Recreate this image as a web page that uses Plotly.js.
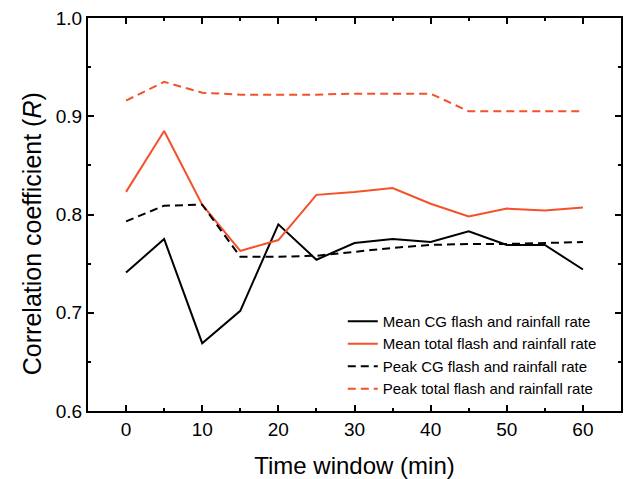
<!DOCTYPE html>
<html>
<head>
<meta charset="utf-8">
<script src="https://cdn.plot.ly/plotly-3.0.1.min.js"></script>
<style>html,body{margin:0;padding:0;background:#fff;}#chart{width:627px;height:479px;}</style>
</head>
<body>
<div id="chart"></div>
<script>
const timeWindow = [0, 5, 10, 15, 20, 25, 30, 35, 40, 45, 50, 55, 60];
const meanCG = [0.741, 0.775, 0.669, 0.702, 0.790, 0.754, 0.771, 0.775, 0.772, 0.783, 0.769, 0.769, 0.744];
const meanTotal = [0.823, 0.885, 0.810, 0.763, 0.774, 0.820, 0.823, 0.827, 0.811, 0.798, 0.806, 0.804, 0.807];
const peakCG = [0.793, 0.809, 0.810, 0.757, 0.757, 0.758, 0.762, 0.766, 0.769, 0.770, 0.770, 0.771, 0.772];
const peakTotal = [0.916, 0.935, 0.924, 0.922, 0.922, 0.922, 0.923, 0.923, 0.923, 0.905, 0.905, 0.905, 0.905];
const seriesNames = ["Mean CG flash and rainfall rate", "Mean total flash and rainfall rate", "Peak CG flash and rainfall rate", "Peak total flash and rainfall rate"];
const xTitle = "Time window (min)";
const yTitle = "Correlation coefficient (<i>R</i>)";

const black = "#000000";
const orange = "#F4512A";
const dashStyle = "8px,5px";

const traces = [
  {x: timeWindow, y: meanCG, name: seriesNames[0], mode: "lines", line: {color: black, width: 2}},
  {x: timeWindow, y: meanTotal, name: seriesNames[1], mode: "lines", line: {color: orange, width: 2}},
  {x: timeWindow, y: peakCG, name: seriesNames[2], mode: "lines", line: {color: black, width: 2, dash: dashStyle}},
  {x: timeWindow, y: peakTotal, name: seriesNames[3], mode: "lines", line: {color: orange, width: 2, dash: dashStyle}}
];

const fontFam = "Liberation Sans, Arial, sans-serif";
const axisCommon = {
  showgrid: false, zeroline: false, showline: true, linecolor: "#000", linewidth: 2,
  mirror: "allticks", ticks: "inside", ticklen: 6, tickwidth: 2, tickcolor: "#000",
  tickfont: {family: fontFam, size: 19, color: "#000"},
  automargin: false
};

const layout = {
  width: 627, height: 479,
  margin: {l: 88, r: 6, t: 18, b: 68},
  paper_bgcolor: "#fff", plot_bgcolor: "#fff",
  font: {family: fontFam, color: "#000"},
  showlegend: true,
  legend: {
    x: 0.478, y: 0.27, xanchor: "left", yanchor: "top",
    bgcolor: "rgba(0,0,0,0)", borderwidth: 0,
    font: {family: fontFam, size: 15, color: "#000"},
    tracegroupgap: 0, itemwidth: 30
  },
  xaxis: Object.assign({}, axisCommon, {
    range: [-5, 65], tickmode: "linear", tick0: 0, dtick: 10,
    minor: {ticks: "inside", ticklen: 3, tickwidth: 2, tickcolor: "#000", dtick: 5, tick0: 0},
    title: {text: xTitle, font: {size: 24}}
  }),
  yaxis: Object.assign({}, axisCommon, {
    range: [0.6, 1.0], tickmode: "linear", tick0: 0.6, dtick: 0.1, tickformat: ".1f",
    minor: {ticks: "inside", ticklen: 3, tickwidth: 2, tickcolor: "#000", dtick: 0.05, tick0: 0.6},
    title: {text: ""}
  }),
  annotations: [{
    text: yTitle, textangle: -90, showarrow: false,
    xref: "paper", yref: "paper", x: -0.105, y: 0.45, xanchor: "center", yanchor: "middle",
    font: {family: fontFam, size: 25, color: "#000"}
  }]
};

Plotly.newPlot("chart", traces, layout, {displayModeBar: false, staticPlot: true});
</script>
</body>
</html>
